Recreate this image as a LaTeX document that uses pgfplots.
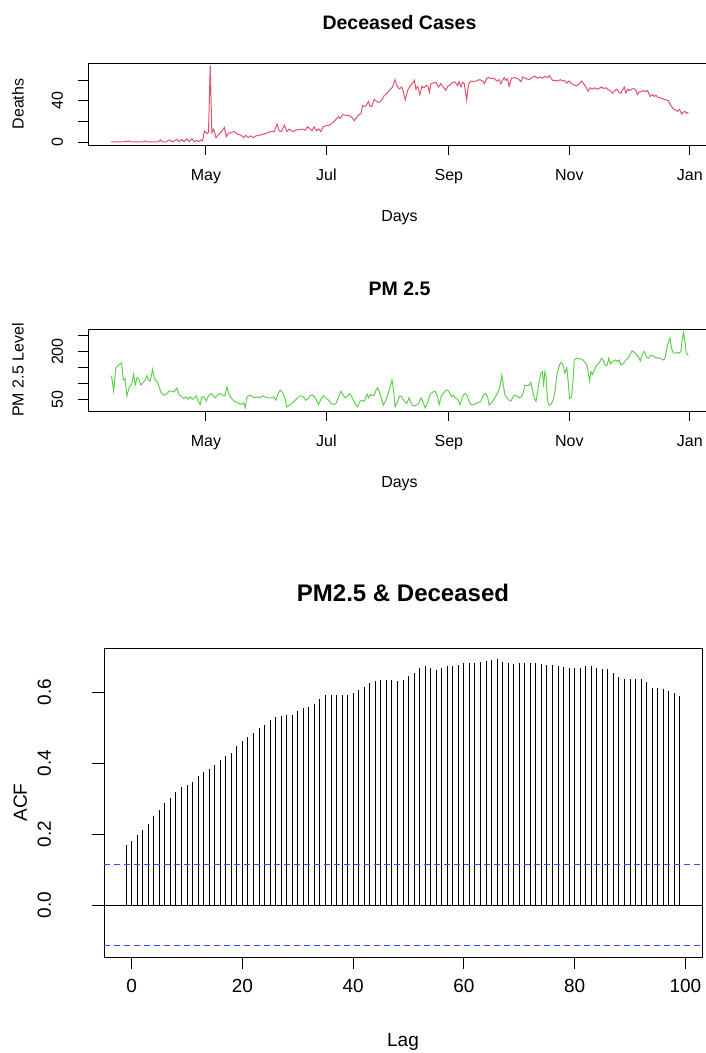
\documentclass[border=0pt]{standalone}
\usepackage{fontspec}
\setmainfont{Liberation Sans}
\usepackage{pgfplots}
\usepackage{pgfplotstable}
\pgfplotsset{compat=1.18}

\definecolor{rred}{HTML}{DF536B}
\definecolor{rgreen}{HTML}{61D04F}
\definecolor{rblue}{RGB}{50,80,255}

% day of year (2020), deaths per day
\pgfplotstableread{
day deaths
74 0
77 0
80 0
83 1
84 0
90 0
91 1
92 0
98 0
99 2
100 0
101.7 0
103.4 2
105.1 0
107.3 2.6
108.5 0.3
109.7 2.3
111 0.3
112.4 3
113.6 0.3
114.9 3.3
116.1 0.3
117.3 1.6
118.3 0.3
119.5 2
120.3 1
121.2 10.8
122.5 8.2
123.3 9.2
124.2 74.5
125 9.2
125.9 12.4
127.1 4.2
128.2 6.8
129.6 9.2
131.3 14.1
132.3 5.2
133.3 8.2
134.7 9.2
136.3 10.2
138 7.5
139.7 6.8
141.1 4.2
142.2 6.5
143.4 4.2
144.8 5.9
146.1 4.2
147.3 5.9
149.8 6.8
153.2 8.8
154.9 10.2
156.6 10.2
158 17.4
159.1 10.8
160.3 10.2
161.7 16.4
163 10.2
164.2 12.5
165.9 10.2
167.6 11.6
169.2 12
170.9 12.5
172.3 11.5
173.5 14.8
174.6 12.8
175.7 10.8
176.8 14.8
178 10.8
179 12.8
180.2 10.2
181.4 14.8
182.7 15.8
184.4 16.4
186.1 18.7
187.8 22
189.2 24.6
190 23
191.2 26.6
192.9 26
194.6 25.6
195.9 24
197.1 20.7
198.3 24
199.6 26.6
200.5 27.9
201.3 35.5
202.2 34.5
203.3 36.1
204.3 39.4
205 35.1
206 34.5
207.2 41.7
208.4 39.4
209.7 38.4
211.1 41.1
212.3 45.4
213.5 47
214.8 50.3
216.5 53.5
217.7 60.7
218.7 54.8
219.9 51.8
221.1 53.5
221.9 49.5
222.9 40.9
224.1 50.2
225.3 54.2
226.6 57.4
227.5 60.1
228.3 51.5
229.2 54.2
230.3 45.9
231.3 54.2
232.5 52.8
233.4 55.1
234.5 54.2
235.1 48.2
235.9 56.8
237.1 57.4
238.4 58.1
239.8 53.5
240.9 56.8
242.1 53.5
243.5 50.2
244.3 54.2
245.5 55.5
246.9 58.1
248.2 58.4
249.4 54.8
250.2 58.8
251.1 53.5
251.9 58.1
252.8 56.8
254 40.9
255 56.8
256.2 59.4
257.8 58.8
259.5 60.1
260.7 60.7
262.1 59.4
263.1 56.8
264.1 62
265.4 62.7
266.3 61.9
268 62
269.3 59.4
270.5 60.7
271.3 56.8
272.2 60.1
273 62.7
273.9 60.1
274.7 61.4
275.5 54.2
276.7 62.1
278.1 62.7
279.4 62.1
280.6 60.7
281.5 58.8
282.3 63.4
283.1 62.7
284.5 61.4
285.7 60.7
287.4 63.4
288.5 64
289.9 62.1
291.2 63.4
292.4 62.1
293.6 64
295 62.7
295.8 64.7
296.6 62.7
297.5 60.1
298.7 60.1
300 59.4
301.4 60.7
302.5 59.4
303.4 60.1
304.7 57.4
305.9 59.4
307.1 56.8
308.5 55.5
309.8 54.8
311 56.8
312.2 59.4
313.2 56.8
314.4 53.5
315.5 49.6
316.5 52.8
317.7 51.5
318.9 52.8
319.9 51.5
321.1 52.2
322.3 53.5
323.3 52.2
324.5 52.8
325.7 50.9
326.7 50.2
327.9 47.6
329 50.2
330.1 51.5
331.2 48.2
332.1 47.6
332.9 50.9
333.8 53.5
334.6 47.6
335.5 51.5
336.3 50.2
337.1 50.9
338.5 52.2
339.7 50.2
340.5 46.3
341.4 48.9
342.2 48.9
343.6 50.2
344.7 48.9
345.6 50.2
346.9 44.3
348.1 46.3
349 44.3
349.8 45.6
350.6 43.6
352.3 43
353.7 41.7
354.9 41
356.1 40.3
357.4 35.4
358.7 32.1
359.9 31.1
360.8 29.8
361.8 31.8
362.8 27.2
363.8 29.2
364.5 29.8
365.5 27.9
366.2 29.2
}\deaths

% day of year (2020), PM 2.5 level
\pgfplotstableread{
day pm
74.2 124.5
75.3 76.2
76.4 149.7
77.6 156
78.5 161.2
79.3 164.4
80.2 110.8
81 116.1
82 61.4
83.2 89.8
84.4 97.2
85.4 128.7
86.2 95.1
87.1 118.2
87.9 116.1
89.1 95.1
90.4 105.6
91.3 110.8
92.1 124.5
93 110.8
93.8 107.7
95 144.4
95.8 118.2
96.7 107.7
97.5 105.6
98.4 86.7
99.6 68.8
100.9 63.6
102.3 67.7
103.4 76.2
104.6 76.2
106 74
107.3 86.7
108.5 63.6
109.3 61.4
110.7 53
111.9 58.3
113.1 50.9
114.1 58.3
115.2 50.9
116.1 55.1
117.1 61.4
118.1 44.6
119.1 34.1
120 58.3
121.2 57.2
122.2 44.6
123.2 61.4
124.5 68.8
125.5 63.6
126.6 55.1
127.9 63.6
129.3 68.8
130.4 63.6
131.6 61.4
132.6 89.8
133.8 63.6
135 53
136.3 44.6
137.7 40.4
138.9 37.3
140.1 34.1
141.1 40.4
141.9 24.7
142.8 58.3
144 63.6
145.1 61.4
146.5 55.1
147.8 58.3
149.2 55.1
150.5 61.4
151.9 58.3
153.2 55.1
154.9 55.1
156.3 58.3
157.4 47.8
158.6 68.8
159.6 79.3
160.8 72
162 55.1
163 26.8
164.2 32
165.4 37.3
166.7 44.6
167.9 52
169.2 60
170.1 61.4
171.3 58.3
172.6 47.8
173.6 50.9
174.6 61.4
176 63.6
177 58.3
178 47.8
179 34.1
180.2 50.9
181.4 61.4
182.7 55.1
184.1 47.8
185.4 37.3
186.5 34.1
187.8 37.3
189.2 58.3
190.3 76.2
191.5 63.6
192.5 55.1
193.7 61.4
194.6 68.8
195.6 61.4
196.6 47.8
197.6 37.3
198.8 26.8
200 44.6
201 47.8
202.2 44.6
203 58.3
203.7 65.7
204.3 55.1
205.5 65.7
206.4 61.4
207.2 63.6
208.1 79.3
208.9 86.7
209.7 76.2
210.8 55.1
211.8 32
213.1 47.8
214 63.6
214.8 79.3
216.2 110.8
217 79.3
217.8 26.8
219 44.6
220.2 61.4
221.2 58.3
222.4 44.6
223.6 37.3
224.9 55.1
225.9 37.3
227 29.9
228.3 32
229.7 37.3
231 55.1
232 40.4
233 23.6
234.2 40.4
235.1 58.3
235.9 68.8
237.1 74
238.1 76.2
239.3 58.3
240.1 34.1
241.3 63.6
242.3 68.8
243.5 79.3
244.5 79.3
245.5 68.8
246.4 58.3
247.2 63.6
248.2 55.1
249.4 50.9
250.6 34.1
251.9 58.3
252.9 68.8
254 65.7
255 47.8
256.2 34.1
257.3 34.1
258.7 37.3
260 40.4
261.2 44.6
262.4 63.6
263.4 68.8
264.6 58.3
265.4 32
266.4 40.4
267.5 47
268.8 61.4
270 74
271 95.1
271.8 126.6
272.7 89.8
273.4 63.6
274.4 55.1
275.5 47.8
276.4 44.6
277.2 55.1
278.1 63.6
279.4 61.4
280.6 55.1
281.8 58.3
282.8 74
283.5 95.1
284.5 93
285.7 95.1
286.5 103.5
287.4 79.3
288.2 53
289.1 44.6
289.9 74
290.7 105.6
291.6 131.8
292.4 137.1
292.9 89.8
293.6 137.1
294.3 116.1
294.9 47.8
295.8 32
296.6 34.1
297.7 47.8
298.7 74
299.7 126.6
300.9 158.1
302 166.5
303.1 152.8
303.7 131.8
304.7 149.7
305.4 105.6
306.1 53
307.1 58.3
307.8 105.6
308.5 173.9
309.5 179.1
310.5 177
311.8 177
312.8 173.9
313.9 166.5
314.9 158.1
315.5 137.1
316.2 107.7
316.9 137.1
317.7 128.7
318.6 142.3
319.4 152.8
320.3 160.2
321.3 166.5
322.3 179.1
323.3 170.7
324 158.1
325 156
326 179.1
326.7 160.2
327.4 166.5
328.4 170.7
329.4 173.9
330.4 168.6
331.2 173.9
332.1 158.1
332.9 160.2
333.8 166.5
334.6 173.9
335.8 179.1
336.8 191.7
337.8 202.2
338.8 198
339.8 191.7
340.9 184.4
341.9 170.7
342.5 184.4
343.6 200.1
344.2 198
344.9 184.4
345.9 179.1
346.9 187.5
347.9 187.5
349 184.4
350 179.1
350.6 181.2
351.7 179.1
352.7 177
353.7 173.9
354.4 179.1
355 200.1
356 226.4
357 242.2
357.7 210.6
358.7 194.9
359.7 194.9
360.8 198
361.8 194.9
362.5 202.2
363.1 236.9
363.8 261.1
364.5 231.6
365.2 194.9
366.2 187.5
}\pm

% cross-correlation by lag
\pgfplotstableread{
lag acf
-1 0.170
0 0.180
1 0.197
2 0.211
3 0.229
4 0.251
5 0.269
6 0.289
7 0.303
8 0.318
9 0.333
10 0.339
11 0.346
12 0.363
13 0.374
14 0.384
15 0.394
16 0.408
17 0.421
18 0.428
19 0.448
20 0.462
21 0.473
22 0.485
23 0.498
24 0.507
25 0.520
26 0.530
27 0.533
28 0.534
29 0.535
30 0.547
31 0.555
32 0.559
33 0.566
34 0.580
35 0.592
36 0.593
37 0.592
38 0.592
39 0.591
40 0.597
41 0.606
42 0.615
43 0.625
44 0.631
45 0.635
46 0.635
47 0.634
48 0.632
49 0.635
50 0.646
51 0.654
52 0.667
53 0.672
54 0.667
55 0.663
56 0.667
57 0.672
58 0.674
59 0.677
60 0.681
61 0.682
62 0.683
63 0.686
64 0.688
65 0.690
66 0.693
67 0.686
68 0.681
69 0.678
70 0.682
71 0.682
72 0.682
73 0.682
74 0.679
75 0.675
76 0.677
77 0.674
78 0.670
79 0.668
80 0.668
81 0.667
82 0.672
83 0.672
84 0.667
85 0.666
86 0.665
87 0.655
88 0.643
89 0.638
90 0.636
91 0.637
92 0.638
93 0.627
94 0.610
95 0.610
96 0.608
97 0.604
98 0.597
99 0.588
}\ccf

\pgfplotsset{
  rbox/.style={
    scale only axis,
    axis line style={black, line width=0.9pt},
    tick style={black, line width=0.9pt},
    tick align=outside,
    xtick pos=left, ytick pos=left,
    clip=true,
  },
  rsmall/.style={
    rbox,
    width=623pt, height=82pt,
    xmin=62.3, xmax=377.7,
    major tick length=10pt,
    xtick={122,183,245,306,367},
    xticklabels={May,Jul,Sep,Nov,Jan},
    ticklabel style={font=\fontsize{16}{19}\selectfont},
    xticklabel style={anchor=base},
    xticklabel shift=25pt,
    yticklabel style={rotate=90, anchor=base},
    yticklabel shift=15pt,
    label style={font=\fontsize{16}{19}\selectfont},
    xlabel style={at={(axis description cs:0.5,-0.89)}, anchor=center},
    ylabel style={at={(axis description cs:-0.1125,0.5)}, anchor=center},
    title style={at={(axis description cs:0.5,1.415)}, anchor=center,
      font=\fontsize{19.5}{23}\selectfont\bfseries},
    xlabel={Days},
  },
}

\begin{document}
\begin{tikzpicture}
\path[use as bounding box] (0pt,0pt) rectangle (706pt,-1053pt);

\begin{axis}[rsmall,
  at={(88pt,-63pt)}, anchor=north west,
  ymin=-2.96, ymax=76.96,
  ytick={0,20,40,60}, yticklabels={0,,40,},
  title={Deceased Cases}, ylabel={Deaths}]
\addplot[rred, line width=1pt] table[x=day, y=deaths] {\deaths};
\end{axis}

\begin{axis}[rsmall,
  at={(88pt,-329pt)}, anchor=north west,
  ymin=14, ymax=270.6,
  ytick={50,100,150,200,250}, yticklabels={50,,,200,},
  title={PM 2.5}, ylabel={PM 2.5 Level}]
\addplot[rgreen, line width=1pt] table[x=day, y=pm] {\pm};
\end{axis}

\begin{axis}[rbox,
  at={(104pt,-648pt)}, anchor=north west,
  width=598pt, height=309pt,
  xmin=-5, xmax=103, ymin=-0.146, ymax=0.724,
  major tick length=12pt,
  xtick={0,20,40,60,80,100},
  ytick={0,0.2,0.4,0.6}, yticklabels={0.0,0.2,0.4,0.6},
  /pgf/number format/assume math mode=true,
  ticklabel style={font=\fontsize{19}{23}\selectfont},
  xticklabel style={anchor=base},
  xticklabel shift=23pt,
  yticklabel style={rotate=90, anchor=base},
  yticklabel shift=41pt,
  label style={font=\fontsize{19}{23}\selectfont},
  xlabel={Lag}, ylabel={ACF},
  xlabel style={at={(axis description cs:0.5,-0.275)}, anchor=center},
  ylabel style={at={(axis description cs:-0.140,0.5)}, anchor=center},
  title={PM2.5 \& Deceased},
  title style={at={(axis description cs:0.5,1.160)}, anchor=center,
    font=\fontsize{24}{28}\selectfont\bfseries}]
\addplot[ycomb, black, line width=1pt] table[x=lag, y=acf] {\ccf};
\addplot[black, line width=0.9pt] coordinates {(-5,0) (103,0)};
\addplot[rblue, line width=1.3pt, dash pattern=on 6pt off 4pt] coordinates {(-5,0.1136) (103,0.1136)};
\addplot[rblue, line width=1.3pt, dash pattern=on 6pt off 4pt] coordinates {(-5,-0.1136) (103,-0.1136)};
\end{axis}
\end{tikzpicture}
\end{document}
